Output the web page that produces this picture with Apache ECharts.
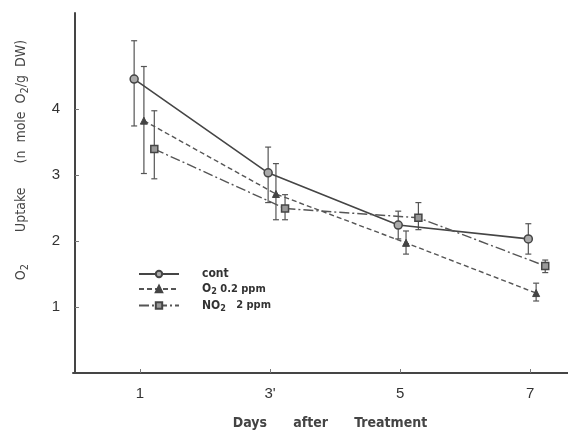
<!DOCTYPE html>
<html>
<head>
<meta charset="utf-8">
<script src="https://cdn.jsdelivr.net/npm/echarts@6/dist/echarts.min.js"></script>
<style>
  html, body { margin: 0; padding: 0; background: #fff; }
  #chart { width: 568px; height: 441px; }
</style>
</head>
<body>
<div id="chart"></div>
<script>
// Tick positions and labels
const xTickValues = [1, 3, 5, 7];
const xTickLabels = ['1', "3'", '5', '7'];
const yTickValues = [1, 2, 3, 4];

// Control
const contX  = [0.91, 2.97, 4.97, 6.97];
const contY  = [4.45, 3.03, 2.24, 2.03];
const contLo = [3.74, 2.58, 2.03, 1.80];
const contHi = [5.03, 3.42, 2.45, 2.26];

// O3 0.2 ppm
const o3X  = [1.06, 3.09, 5.09, 7.09];
const o3Y  = [3.82, 2.71, 1.97, 1.21];
const o3Lo = [3.02, 2.32, 1.80, 1.09];
const o3Hi = [4.64, 3.17, 2.15, 1.36];

// NO2 2 ppm
const no2X  = [1.22, 3.23, 5.28, 7.23];
const no2Y  = [3.39, 2.49, 2.35, 1.62];
const no2Lo = [2.94, 2.32, 2.17, 1.52];
const no2Hi = [3.97, 2.70, 2.58, 1.71];

const ink = '#454545';
const narrow = "'Liberation Sans Narrow', 'DejaVu Sans Condensed', sans-serif";

function pairs(xs, ys) { return xs.map((x, i) => [x, ys[i]]); }
function bars(xs, lo, hi) { return xs.map((x, i) => [x, lo[i], hi[i]]); }

function errorBars(data) {
  return {
    type: 'custom',
    silent: true,
    z: 1,
    data: data,
    encode: { x: 0, y: [1, 2] },
    renderItem: function (params, api) {
      const x = api.value(0);
      const lo = api.coord([x, api.value(1)]);
      const hi = api.coord([x, api.value(2)]);
      const cap = 3;
      const style = { stroke: '#555', lineWidth: 1.2, fill: null };
      return {
        type: 'group',
        children: [
          { type: 'line', shape: { x1: lo[0], y1: lo[1], x2: hi[0], y2: hi[1] }, style: style },
          { type: 'line', shape: { x1: lo[0] - cap, y1: lo[1], x2: lo[0] + cap, y2: lo[1] }, style: style },
          { type: 'line', shape: { x1: hi[0] - cap, y1: hi[1], x2: hi[0] + cap, y2: hi[1] }, style: style }
        ]
      };
    }
  };
}

const legendText = {
  'cont': '{t|cont}',
  'O3': '{t|O}{s|2}{u| 0.2 ppm}',
  'NO2': '{t|NO}{s|2}{u|   2 ppm}'
};

const chart = echarts.init(document.getElementById('chart'), null, { renderer: 'canvas' });

chart.setOption({
  backgroundColor: '#fff',
  animation: false,
  grid: { left: 73, right: 0, top: 13, bottom: 68, containLabel: false },
  xAxis: {
    type: 'value',
    min: -0.03,
    max: 7.58,
    splitLine: { show: false },
    axisLine: { lineStyle: { color: ink, width: 2 } },
    axisTick: { inside: true, length: 4, customValues: xTickValues, lineStyle: { color: '#777' } },
    axisLabel: {
      customValues: xTickValues,
      margin: 13,
      fontSize: 15,
      color: '#333',
      fontFamily: "'Liberation Sans', Arial, sans-serif",
      formatter: function (v) { return xTickLabels[xTickValues.indexOf(v)]; }
    }
  },
  yAxis: {
    type: 'value',
    min: 0,
    max: 5.45,
    splitLine: { show: false },
    axisLine: { lineStyle: { color: ink, width: 2 } },
    axisTick: { inside: true, length: 4, customValues: yTickValues, lineStyle: { color: '#777' } },
    axisLabel: {
      customValues: yTickValues,
      margin: 13,
      fontSize: 15,
      color: '#333',
      fontFamily: "'Liberation Sans', Arial, sans-serif"
    }
  },
  legend: {
    orient: 'vertical',
    left: 133,
    top: 263,
    itemWidth: 40,
    itemHeight: 8,
    itemGap: 3,
    data: ['cont', 'O3', 'NO2'],
    formatter: function (name) { return legendText[name]; },
    textStyle: {
      color: '#333',
      padding: [0, 0, 0, 18],
      rich: {
        t: { fontSize: 12, fontWeight: 'bold', fontFamily: narrow, color: '#333' },
        u: { fontSize: 11, fontWeight: 'bold', fontFamily: narrow, color: '#333' },
        s: { fontSize: 9, fontWeight: 'bold', fontFamily: narrow, color: '#333', padding: [6, 0, 0, 0] }
      }
    }
  },
  graphic: [
    {
      type: 'text',
      x: 21,
      y: 160,
      rotation: Math.PI / 2,
      style: {
        text: '{a|O}{s|2}{a|        Uptake      (n  mole  O}{s|2}{a|/g  DW)}',
        align: 'center',
        verticalAlign: 'middle',
        fill: '#444',
        rich: {
          a: { fontSize: 14, fontFamily: narrow, fill: '#444' },
          s: { fontSize: 11, fontFamily: narrow, fill: '#444', padding: [8, 0, 0, 0] }
        }
      }
    },
    {
      type: 'text',
      x: 330,
      y: 423,
      style: {
        text: 'Days      after      Treatment',
        align: 'center',
        verticalAlign: 'middle',
        fontSize: 14,
        fontWeight: 'bold',
        fontFamily: narrow,
        fill: '#444'
      }
    }
  ],
  series: [
    errorBars(bars(contX, contLo, contHi)),
    errorBars(bars(o3X, o3Lo, o3Hi)),
    errorBars(bars(no2X, no2Lo, no2Hi)),
    {
      name: 'cont',
      type: 'line',
      z: 3,
      data: pairs(contX, contY),
      symbol: 'circle',
      symbolSize: 8,
      lineStyle: { color: ink, width: 1.6, type: 'solid' },
      itemStyle: { color: '#aaa', borderColor: ink, borderWidth: 1.5 }
    },
    {
      name: 'O3',
      type: 'line',
      z: 3,
      data: pairs(o3X, o3Y),
      symbol: 'triangle',
      symbolSize: 7,
      lineStyle: { color: '#555', width: 1.4, type: [5, 3] },
      itemStyle: { color: '#444', borderColor: '#444', borderWidth: 1 }
    },
    {
      name: 'NO2',
      type: 'line',
      z: 3,
      data: pairs(no2X, no2Y),
      symbol: 'rect',
      symbolSize: 7,
      lineStyle: { color: '#555', width: 1.4, type: [10, 3, 2, 3] },
      itemStyle: { color: '#999', borderColor: ink, borderWidth: 1.5 }
    }
  ]
});
</script>
</body>
</html>
